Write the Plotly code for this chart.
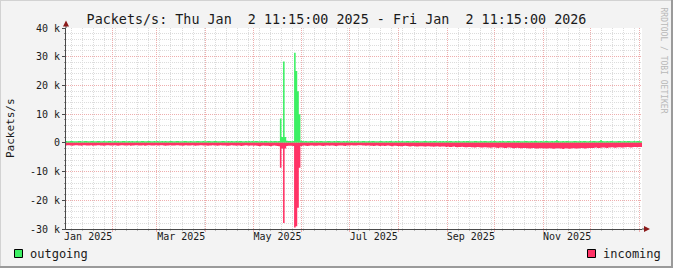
import pandas as pd
import plotly.graph_objects as go

range_start = "2025-01-02 11:15:00"
range_end = "2026-01-02 11:15:00"
first_day = "2025-01-02"

# daily outgoing packets/s (Jan 2 2025 .. Jan 1 2026)
outgoing = [
    # Jan
    620, 600, 580, 610, 640, 600, 590, 570, 610, 630,
    600, 590, 620, 610, 580, 600, 630, 610, 600, 590,
    620, 640, 600, 580, 610, 600, 590, 620, 610, 600,
    # Feb
    600, 610, 590, 620, 600, 580, 610, 630, 600, 590,
    610, 600, 620, 590, 600, 610, 580, 600, 620, 610,
    590, 600, 630, 610, 600, 590, 610, 600,
    # Mar
    610, 600, 590, 620, 600, 610, 580, 600, 620, 610,
    600, 590, 610, 630, 600, 590, 600, 610, 620, 600,
    590, 610, 600, 580, 600, 620, 610, 600, 590, 610,
    600,
    # Apr
    600, 620, 610, 590, 600, 610, 630, 600, 590, 600,
    620, 610, 600, 590, 610, 600, 620, 600, 590, 610,
    600, 620, 610, 590, 600, 610, 600, 620, 600, 610,
    # May
    600, 610, 620, 600, 590, 610, 600, 620, 610, 600,
    590, 610, 600, 620, 610, 600, 650, 8500, 2000, 28300,
    2000, 700, 650, 620, 600, 640, 31400, 25000, 18000, 10000,
    700,
    # Jun
    620, 600, 610, 590, 600, 620, 610, 600, 590, 610,
    600, 620, 610, 600, 590, 600, 610, 620, 600, 590,
    610, 600, 620, 610, 600, 590, 610, 600, 620, 600,
    # Jul
    600, 610, 590, 620, 600, 610, 600, 590, 610, 630,
    600, 590, 610, 600, 620, 610, 600, 590, 600, 610,
    620, 600, 590, 610, 600, 620, 610, 600, 590, 610,
    600,
    # Aug
    610, 600, 620, 590, 600, 610, 630, 600, 590, 610,
    600, 620, 610, 600, 590, 600, 610, 620, 600, 590,
    610, 600, 620, 610, 600, 590, 610, 600, 620, 600,
    610,
    # Sep
    600, 620, 610, 590, 600, 610, 600, 620, 600, 590,
    610, 600, 630, 610, 600, 590, 600, 610, 620, 600,
    590, 610, 600, 620, 610, 600, 590, 610, 600, 620,
    # Oct
    610, 600, 590, 620, 600, 610, 600, 590, 610, 630,
    600, 590, 610, 600, 620, 610, 600, 590, 600, 610,
    620, 600, 590, 610, 600, 620, 610, 600, 590, 610,
    600,
    # Nov
    600, 610, 620, 600, 590, 610, 600, 620, 900, 610,
    600, 590, 610, 600, 620, 610, 600, 590, 600, 610,
    620, 600, 590, 610, 600, 620, 610, 600, 590, 610,
    # Dec
    600, 620, 610, 590, 600, 610, 1000, 620, 600, 590,
    610, 600, 630, 610, 600, 590, 600, 610, 620, 600,
    590, 610, 600, 620, 610, 600, 590, 610, 600, 620,
    610,
    # Jan 2026
    600,
]

# daily incoming packets/s (drawn below zero)
incoming = [
    # Jan
    900, 850, 800, 950, 1000, 900, 850, 800, 900, 950,
    1000, 850, 800, 900, 950, 900, 850, 1000, 950, 900,
    850, 800, 900, 950, 1000, 900, 850, 800, 900, 950,
    # Feb
    900, 850, 950, 1000, 900, 800, 850, 900, 950, 900,
    850, 1000, 950, 900, 850, 800, 900, 950, 900, 850,
    1000, 900, 850, 800, 900, 950, 900, 850,
    # Mar
    900, 950, 850, 800, 900, 1000, 950, 900, 850, 900,
    950, 900, 850, 800, 900, 950, 1000, 900, 850, 900,
    950, 900, 850, 900, 1000, 950, 900, 850, 800, 900,
    950,
    # Apr
    900, 1000, 950, 900, 850, 900, 950, 1000, 900, 850,
    900, 950, 900, 1000, 1050, 900, 850, 900, 950, 1000,
    900, 950, 1100, 1000, 900, 850, 950, 1000, 900, 950,
    # May
    1000, 950, 1000, 1100, 1200, 1000, 950, 1000, 1050, 1000,
    1100, 1200, 1000, 950, 1000, 1100, 1200, 8700, 2000, 27900,
    2000, 1100, 1000, 1050, 1000, 1100, 29500, 29000, 22600, 8700,
    1100,
    # Jun
    1000, 950, 1000, 1100, 1000, 950, 900, 1000, 1050, 1000,
    950, 900, 1000, 1100, 1000, 950, 900, 1000, 950, 900,
    1000, 1100, 1000, 950, 900, 950, 1000, 1100, 950, 900,
    # Jul
    900, 850, 900, 950, 900, 850, 800, 850, 900, 950,
    1000, 950, 900, 1000, 1050, 1100, 1000, 950, 1000, 1100,
    1000, 1050, 1100, 1000, 950, 1000, 1100, 1150, 1000, 1050,
    1100,
    # Aug
    1100, 1150, 1200, 1100, 1050, 1100, 1200, 1250, 1150, 1100,
    1200, 1250, 1300, 1200, 1150, 1200, 1300, 1250, 1200, 1150,
    1250, 1300, 1350, 1250, 1200, 1300, 1350, 1300, 1250, 1300,
    1400,
    # Sep
    1300, 1400, 1450, 1350, 1300, 1400, 1500, 1450, 1400, 1350,
    1450, 1500, 1550, 1450, 1400, 1500, 1550, 1600, 1500, 1450,
    1550, 1600, 1650, 1550, 1500, 1600, 1650, 1700, 1600, 1550,
    # Oct
    1600, 1700, 1750, 1650, 1600, 1700, 1800, 1750, 1650, 1600,
    1700, 1800, 1900, 1750, 1700, 1800, 1850, 1900, 1800, 1750,
    1850, 1900, 2000, 1850, 1800, 1900, 1950, 2000, 1900, 1850,
    1900,
    # Nov
    1900, 2000, 1950, 1850, 1900, 2000, 2050, 1950, 1900, 1850,
    1950, 2000, 2100, 1950, 1900, 2000, 2050, 1950, 1900, 1850,
    1950, 2000, 1900, 1850, 1800, 1900, 1950, 1850, 1800, 1750,
    # Dec
    1750, 1800, 1700, 1650, 1750, 1800, 1700, 1650, 1600, 1700,
    1750, 1650, 1600, 1550, 1650, 1700, 1600, 1550, 1500, 1600,
    1650, 1550, 1500, 1450, 1550, 1600, 1500, 1450, 1400, 1500,
    1450,
    # Jan 2026
    1400,
]

month_starts = ["2025-02-01", "2025-03-01", "2025-04-01", "2025-05-01",
                "2025-06-01", "2025-07-01", "2025-08-01", "2025-09-01",
                "2025-10-01", "2025-11-01", "2025-12-01", "2026-01-01"]
label_months = ["2025-01-01", "2025-03-01", "2025-05-01",
                "2025-07-01", "2025-09-01", "2025-11-01"]
label_text = ["Jan 2025", "Mar 2025", "May 2025", "Jul 2025", "Sep 2025", "Nov 2025"]
y_ticks = [-30000, -20000, -10000, 0, 10000, 20000, 30000, 40000]
y_text = ["-30 k", "-20 k", "-10 k", "0", "10 k", "20 k", "30 k", "40 k"]

GREEN = "#3CF064"
PINK = "#FF3366"
GRID = "#DCDCDC"
MGRID = "#EEAEAE"
AXIS = "#4A4A4A"
ARROW = "#8B1A1A"
FONT = "DejaVu Sans Mono"


def step_x(n):
    days = list(pd.date_range(first_day, periods=n, freq="D"))
    return days + [pd.Timestamp(range_end)]


def step_y(v):
    return list(v) + [v[-1]]


label_pos = []
for m in label_months:
    t0 = pd.Timestamp(m)
    t1 = t0 + pd.offsets.MonthBegin(1)
    label_pos.append(t0 + (t1 - t0) / 2)

fig = go.Figure()
fig.add_trace(go.Scatter(
    x=step_x(len(outgoing)), y=step_y(outgoing), mode="lines",
    line=dict(width=0, shape="hv", color=GREEN), fill="tozeroy",
    fillcolor=GREEN, hoverinfo="skip", name="outgoing"))
fig.add_trace(go.Scatter(
    x=step_x(len(incoming)), y=[-v for v in step_y(incoming)], mode="lines",
    line=dict(width=0, shape="hv", color=PINK), fill="tozeroy",
    fillcolor=PINK, hoverinfo="skip", name="incoming"))
# helper trace so the label axis is drawn
fig.add_trace(go.Scatter(x=[range_start], y=[0], xaxis="x2", yaxis="y",
                         mode="markers", marker=dict(opacity=0), hoverinfo="skip"))

DOT = "1px,1px"


def px_x(p):
    return (p - 66) / 576


def px_y(p):
    return (229 - p) / 201


fig.update_layout(
    width=673, height=268,
    margin=dict(l=66, r=31, t=28, b=39),
    paper_bgcolor="#F3F3F3", plot_bgcolor="#FFFFFF",
    showlegend=False,
    font=dict(family=FONT, size=10, color="#1A1A1A"),
    title=dict(text="Packets/s: Thu Jan \u00a02 11:15:00 2025 - Fri Jan \u00a02 11:15:00 2026",
               x=0.5, xref="container", xanchor="center",
               y=1 - 19 / 268, yref="container", yanchor="middle",
               font=dict(family=FONT, size=13.4, color="#1A1A1A")),
    xaxis=dict(type="date", range=[range_start, range_end],
               tickmode="array", tickvals=month_starts, showticklabels=False,
               showgrid=True, gridcolor=MGRID, griddash=DOT, gridwidth=1,
               ticks="outside", ticklen=2, tickcolor=MGRID,
               showline=True, linecolor=AXIS, linewidth=1, zeroline=False,
               minor=dict(tick0="2025-01-06", dtick=7 * 86400000, showgrid=True,
                          gridcolor=GRID, griddash=DOT, ticks="outside",
                          ticklen=1, tickcolor="#BBBBBB")),
    xaxis2=dict(type="date", overlaying="x", anchor="y", side="bottom",
                range=[range_start, range_end], tickmode="array",
                tickvals=label_pos, ticktext=label_text, showgrid=False,
                showline=False, zeroline=False, ticks="",
                tickfont=dict(family=FONT, size=10, color="#1A1A1A")),
    yaxis=dict(range=[-30000, 40000], tickmode="array", tickvals=y_ticks,
               ticktext=y_text, showgrid=True, gridcolor=MGRID, griddash=DOT,
               ticks="outside", ticklen=3, tickcolor=AXIS,
               showline=True, linecolor=AXIS, linewidth=1, zeroline=False,
               tickfont=dict(family=FONT, size=10, color="#1A1A1A"),
               minor=dict(tickmode="linear", tick0=0, dtick=2000, showgrid=True,
                          gridcolor=GRID, griddash=DOT, ticks="outside",
                          ticklen=1, tickcolor="#999999")),
)

shapes = [
    # axis extensions and arrows
    dict(type="line", xref="paper", yref="paper", x0=0, x1=0, y0=1, y1=px_y(24),
         line=dict(color=AXIS, width=1)),
    dict(type="path", xref="paper", yref="paper",
         path=f"M {px_x(63)},{px_y(26.5)} L {px_x(69)},{px_y(26.5)} L {px_x(66)},{px_y(20.5)} Z",
         fillcolor=ARROW, line=dict(width=0)),
    dict(type="line", xref="paper", yref="paper", x0=1, x1=px_x(645), y0=0, y1=0,
         line=dict(color=AXIS, width=1)),
    dict(type="path", xref="paper", yref="paper",
         path=f"M {px_x(644)},{px_y(226)} L {px_x(644)},{px_y(232)} L {px_x(650)},{px_y(229)} Z",
         fillcolor=ARROW, line=dict(width=0)),
    # legend squares
    dict(type="rect", xref="paper", yref="paper",
         x0=px_x(14.5), x1=px_x(22.5), y0=px_y(249.5), y1=px_y(257.5),
         fillcolor=GREEN, line=dict(color="#000000", width=1)),
    dict(type="rect", xref="paper", yref="paper",
         x0=px_x(587.5), x1=px_x(595.5), y0=px_y(249.5), y1=px_y(257.5),
         fillcolor=PINK, line=dict(color="#000000", width=1)),
    # frame shading
    dict(type="line", xref="paper", yref="paper", x0=px_x(672), x1=px_x(672),
         y0=px_y(0), y1=px_y(268), line=dict(color="#9A9A9A", width=2)),
    dict(type="line", xref="paper", yref="paper", x0=px_x(0), x1=px_x(673),
         y0=px_y(267), y1=px_y(267), line=dict(color="#9A9A9A", width=2)),
    dict(type="line", xref="paper", yref="paper", x0=px_x(0), x1=px_x(671),
         y0=px_y(0.5), y1=px_y(0.5), line=dict(color="#D2D2D2", width=1)),
    dict(type="line", xref="paper", yref="paper", x0=px_x(0.5), x1=px_x(0.5),
         y0=px_y(0), y1=px_y(266), line=dict(color="#D2D2D2", width=1)),
]
fig.update_layout(shapes=shapes)

fig.add_annotation(text="Packets/s", xref="paper", yref="paper",
                   x=px_x(10.5), y=0.5, textangle=-90, showarrow=False,
                   xanchor="center", yanchor="middle",
                   font=dict(family=FONT, size=11, color="#1A1A1A"))
fig.add_annotation(text="RRDTOOL / TOBI OETIKER", xref="paper", yref="paper",
                   x=px_x(663.5), y=px_y(60), textangle=90, showarrow=False,
                   xanchor="center", yanchor="middle",
                   font=dict(family=FONT, size=8, color="#B8B8B8"))
fig.add_annotation(text="outgoing", xref="paper", yref="paper",
                   x=px_x(28), y=px_y(254), showarrow=False,
                   xanchor="left", yanchor="middle",
                   font=dict(family=FONT, size=12, color="#1A1A1A"))
fig.add_annotation(text="incoming", xref="paper", yref="paper",
                   x=px_x(601), y=px_y(254), showarrow=False,
                   xanchor="left", yanchor="middle",
                   font=dict(family=FONT, size=12, color="#1A1A1A"))

fig.write_html("out.html")
